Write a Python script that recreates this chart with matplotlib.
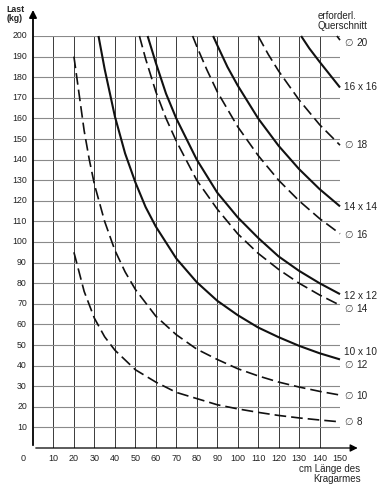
import matplotlib
matplotlib.use('Agg')
import matplotlib.pyplot as plt

plt.rcParams['font.family'] = ['Liberation Sans', 'DejaVu Sans']

# Curves: load (kg) against cantilever length (cm)
x_d8 = [20, 25, 30, 35, 40, 50, 60, 70, 80, 90, 100, 110, 120, 130, 140, 150]
y_d8 = [95, 76, 63, 54, 47.5, 38, 32, 27, 24, 21, 19, 17.3, 15.8, 14.6, 13.6, 12.7]

x_d10 = [20, 22.5, 25, 27.5, 30, 35, 40, 45, 50, 60, 70, 80, 90, 100, 110, 120, 130, 140, 150]
y_d10 = [190, 172, 154, 140, 128, 110, 96, 85.5, 77, 64, 55, 48, 43, 38.5, 35, 32, 29.6, 27.5, 25.7]

x_sq10 = [32, 35, 40, 45, 50, 55, 60, 70, 80, 90, 100, 110, 120, 130, 140, 150]
y_sq10 = [200, 184, 161, 143, 129, 117, 107.5, 92, 80.5, 71.5, 64.5, 58.5, 53.8, 49.6, 46, 43]

x_d14 = [52, 55, 60, 65, 70, 80, 90, 100, 110, 120, 130, 140, 150]
y_d14 = [200, 189, 173, 160, 149, 130, 116, 104, 94.5, 86.7, 80, 74.3, 69.3]

x_sq12 = [56, 60, 65, 70, 80, 90, 100, 110, 120, 130, 140, 150]
y_sq12 = [200, 187, 172, 160, 140, 124, 112, 102, 93, 86, 80, 74.7]

x_d16 = [78, 80, 85, 90, 100, 110, 120, 130, 140, 150]
y_d16 = [200, 195, 183.5, 173, 156, 142, 130, 120, 111.4, 104]

x_sq14 = [88, 90, 95, 100, 110, 120, 130, 140, 150]
y_sq14 = [200, 195.6, 185, 176, 160, 146.7, 135.4, 125.7, 117.3]

x_d18 = [110, 115, 120, 130, 140, 150]
y_d18 = [200, 191, 183, 169, 157, 147]

x_sq16 = [131, 135, 140, 150]
y_sq16 = [200, 194, 187.5, 175]

x_d20 = [148.5, 150]
y_d20 = [200, 198]

# right-hand labels (erforderl. Querschnitt); "D" = round bar, else square
labels = ['D 20', '16 x 16', 'D 18', '14 x 14', 'D 16',
          '12 x 12', 'D 14', '10 x 10', 'D 12', 'D 10', 'D 8']
label_y = [196.5, 175, 147, 117, 103.4, 73.8, 67.5, 46.6, 40.3, 25.2, 12.6]

x_ticks = list(range(10, 151, 10))
y_ticks = list(range(10, 201, 10))

fig = plt.figure(figsize=(3.83, 4.87), dpi=100)
ax = fig.add_axes([33 / 383, 1 - 448 / 487, 307 / 383, 412 / 487])
ax.set_xlim(0, 150)
ax.set_ylim(0, 200)
for s in ax.spines.values():
    s.set_visible(False)
ax.set_xticks([])
ax.set_yticks([])

# grid
ax.vlines(x_ticks, 0, 200, color='#3a3a3a', lw=0.7, zorder=1)
ax.hlines(y_ticks, 0, 150, color='#8a8a8a', lw=0.8, zorder=1)

# axes with arrows
ax.annotate('', xy=(0, 214), xytext=(0, 0), annotation_clip=False,
            arrowprops=dict(arrowstyle='-|>', color='black', lw=1.3, mutation_scale=11))
ax.annotate('', xy=(160, 0), xytext=(0, 0), annotation_clip=False,
            arrowprops=dict(arrowstyle='-|>', color='black', lw=0.9, mutation_scale=11))

solid = dict(color='#111111', lw=1.5, solid_capstyle='butt', zorder=3, clip_on=False)
dashed = dict(color='#111111', lw=1.2, dashes=(7, 3), zorder=3, clip_on=False)

ax.plot(x_d8, y_d8, **dashed)
ax.plot(x_d10, y_d10, **dashed)
ax.plot(x_d14, y_d14, **dashed)
ax.plot(x_d16, y_d16, **dashed)
ax.plot(x_d18, y_d18, **dashed)
ax.plot(x_d20, y_d20, **dashed)
ax.plot(x_sq10, y_sq10, **solid)
ax.plot(x_sq12, y_sq12, **solid)
ax.plot(x_sq14, y_sq14, **solid)
ax.plot(x_sq16, y_sq16, **solid)

tc = '#222222'
# tick labels
for v in y_ticks:
    ax.text(-3, v, str(v), ha='right', va='center', fontsize=6.3, color=tc)
for v in x_ticks:
    ax.text(v, -5.3, str(v), ha='center', va='center', fontsize=6.5, color=tc)
ax.text(-4.8, -5.3, '0', ha='center', va='center', fontsize=6.5, color=tc)

# axis titles
ax.text(-8.8, 212.8, 'Last', ha='center', va='center', fontsize=6.3,
        fontweight='bold', color=tc)
ax.text(-8.8, 208.3, '(kg)', ha='center', va='center', fontsize=6.3,
        fontweight='bold', color=tc)
ax.text(160, -10.2, 'cm L\u00e4nge des', ha='right', va='center', fontsize=7, color=tc)
ax.text(160, -15.2, 'Kragarmes', ha='right', va='center', fontsize=7, color=tc)

# right labels
ax.text(139, 209.7, 'erforderl.', ha='left', va='center', fontsize=7, color=tc)
ax.text(139, 204.8, 'Querschnitt', ha='left', va='center', fontsize=7, color=tc)
for lab, yv in zip(labels, label_y):
    if lab.startswith('D '):
        ax.text(152, yv, '\u2205', ha='left', va='center', fontsize=7,
                family='DejaVu Sans', color='#444444', clip_on=False)
        ax.text(158, yv, lab[2:], ha='left', va='center', fontsize=7.2, color=tc)
    else:
        ax.text(152, yv, lab, ha='left', va='center', fontsize=7.2, color=tc)

plt.savefig('out.png', dpi=100, facecolor='white')
plt.close()
